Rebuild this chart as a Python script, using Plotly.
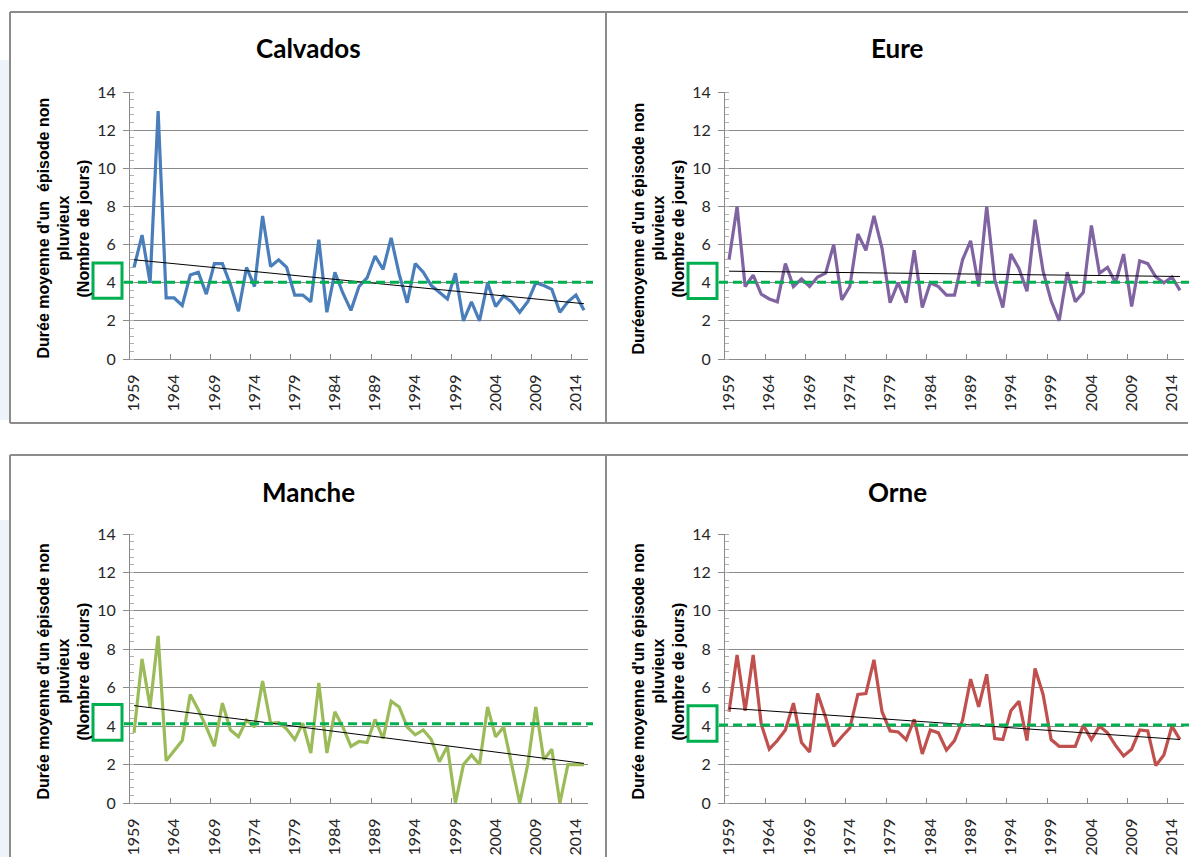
import numpy as np
import plotly.graph_objects as go

W, H = 1189, 857

years = list(range(1959, 2016))
tick_years = list(range(1959, 2015, 5))

regions = ["Calvados", "Eure", "Manche", "Orne"]

calvados = [4.8, 6.5, 4.0, 13.0, 3.2, 3.2, 2.8, 4.4, 4.55, 3.4,
            5.0, 5.0, 3.9, 2.5, 4.8, 3.8, 7.5, 4.85, 5.2, 4.8,
            3.35, 3.35, 3.0, 6.25, 2.45, 4.55, 3.45, 2.55, 3.8, 4.25,
            5.4, 4.7, 6.35, 4.45, 2.95, 5.0, 4.55, 3.85, 3.5, 3.15,
            4.5, 2.0, 3.0, 2.0, 4.0, 2.75, 3.3, 3.0, 2.45, 3.0,
            4.0, 3.85, 3.65, 2.45, 3.0, 3.35, 2.55]

eure = [5.2, 8.0, 3.8, 4.4, 3.4, 3.15, 3.0, 5.0, 3.8, 4.2,
        3.8, 4.3, 4.5, 6.0, 3.1, 3.8, 6.55, 5.7, 7.5, 5.8,
        2.95, 4.0, 2.95, 5.7, 2.7, 4.0, 3.8, 3.35, 3.35, 5.2,
        6.2, 3.8, 8.0, 4.15, 2.7, 5.5, 4.75, 3.55, 7.3, 4.6,
        3.05, 2.0, 4.55, 3.0, 3.5, 7.0, 4.5, 4.8, 4.0, 5.5,
        2.75, 5.15, 5.0, 4.3, 4.0, 4.3, 3.6]

manche = [3.65, 7.5, 5.0, 8.7, 2.2, 2.7, 3.25, 5.65, 4.85, 3.95,
          2.95, 5.2, 3.8, 3.45, 4.3, 3.95, 6.35, 4.15, 4.2, 3.85,
          3.3, 4.15, 2.6, 6.25, 2.6, 4.75, 3.95, 2.95, 3.2, 3.15,
          4.35, 3.35, 5.3, 5.0, 3.95, 3.55, 3.8, 3.3, 2.15, 2.95,
          0.0, 2.0, 2.5, 2.0, 5.0, 3.45, 3.95, 2.0, 0.0, 2.0,
          5.0, 2.25, 2.8, 0.0, 2.0, 2.0, 2.0]

orne = [4.75, 7.7, 4.8, 7.7, 4.1, 2.8, 3.25, 3.8, 5.2, 3.15,
        2.65, 5.7, 4.45, 2.95, 3.45, 3.9, 5.65, 5.7, 7.45, 4.75,
        3.75, 3.7, 3.3, 4.35, 2.55, 3.8, 3.65, 2.75, 3.25, 4.3,
        6.45, 5.0, 6.7, 3.35, 3.3, 4.8, 5.3, 3.25, 7.0, 5.65,
        3.3, 2.95, 2.95, 2.95, 4.05, 3.3, 4.0, 3.65, 3.0, 2.45,
        2.8, 3.8, 3.75, 1.95, 2.5, 4.0, 3.3]

series = [calvados, eure, manche, orne]
reference_levels = [4.03, 4.02, 4.12, 4.06]

y_titles = [
    ["Durée moyenne d'un  épisode non", "pluvieux", "(Nombre de jours)"],
    ["Duréemoyenne d'un épisode non", "pluvieux", "(Nombre de jours)"],
    ["Durée moyenne d'un épisode non", "pluvieux", "(Nombre de jours)"],
    ["Durée moyenne d'un épisode non", "pluvieux", "(Nombre de jours)"],
]

colors = ["#4A7EBB", "#8064A2", "#9BBB59", "#C0504D"]

def px_x(p):
    return p / W

def px_y(p):
    return 1 - p / H

# plot areas in pixels (left, right, top, bottom)
areas = [
    (130, 588, 92, 359),
    (725, 1184, 92, 359),
    (130, 588, 534, 803),
    (725, 1184, 534, 803),
]
panel_centers = [308, 897, 308, 897]
title_y = [48, 48, 492, 492]

fig = go.Figure()
layout = dict(
    template="none",
    width=W, height=H, autosize=False,
    margin=dict(l=0, r=0, t=0, b=0, pad=0, autoexpand=False),
    paper_bgcolor="white", plot_bgcolor="white",
    showlegend=False,
    annotations=[], shapes=[],
)

tick_font = dict(family="Lato, Open Sans, sans-serif", size=16, color="#262626")
grid_col = "#8a8a8a"

for i, (name, vals) in enumerate(zip(regions, series)):
    k = "" if i == 0 else str(i + 1)
    xa, ya = "x" + k, "y" + k
    l, r, t, b = areas[i]
    pw = r - l

    fig.add_trace(go.Scatter(
        x=years, y=vals, mode="lines", xaxis=xa, yaxis=ya,
        line=dict(color=colors[i], width=3.2), hoverinfo="x+y"))

    slope, intercept = np.polyfit(np.array(years), np.array(vals), 1)
    trend = [slope * yr + intercept for yr in (years[0], years[-1])]
    fig.add_trace(go.Scatter(
        x=[years[0], years[-1]], y=trend, mode="lines", xaxis=xa, yaxis=ya,
        line=dict(color="#000000", width=1), hoverinfo="skip"))

    layout["xaxis" + k] = dict(
        domain=[px_x(l), px_x(r)], anchor=ya, automargin=False,
        range=[years[0] - 0.5, years[-1] + 0.5],
        tickmode="array", tickvals=tick_years,
        ticktext=[str(v) for v in tick_years],
        tickangle=-90, ticks="", tickfont=tick_font,
        ticklabelstandoff=8,
        showgrid=False, zeroline=False,
        showline=True, linecolor=grid_col, linewidth=1,
        minor=dict(tickmode="array",
                   tickvals=[v - 0.5 for v in tick_years[1:]],
                   ticks="inside", ticklen=5, tickcolor=grid_col,
                   showgrid=False),
        fixedrange=True,
    )
    layout["yaxis" + k] = dict(
        domain=[px_y(b), px_y(t)], anchor=xa, automargin=False,
        range=[0, 14], dtick=2, tick0=0, tickmode="linear",
        ticks="outside", ticklen=6, tickcolor=grid_col,
        tickfont=tick_font, ticklabelstandoff=4,
        showgrid=True, gridcolor=grid_col, gridwidth=1,
        zeroline=False, showline=True, linecolor=grid_col, linewidth=1,
        minor=dict(dtick=0.4, tick0=0, ticks="inside", ticklen=4,
                   tickcolor="#b0b0b0", showgrid=False),
        fixedrange=True,
    )

    # title
    layout["annotations"].append(dict(
        text="<b>%s</b>" % name, xref="paper", yref="paper",
        x=px_x(panel_centers[i]), y=px_y(title_y[i]),
        xanchor="center", yanchor="middle", showarrow=False,
        font=dict(family="Lato, Open Sans, sans-serif", size=26, color="#000000")))

    # y title lines
    for j, line in enumerate(y_titles[i]):
        layout["annotations"].append(dict(
            text="<b>%s</b>" % line, xref="paper", yref="paper",
            x=px_x(l - 87 + 20 * j), y=px_y((t + b) / 2 + 3),
            xanchor="center", yanchor="middle", textangle=-90, showarrow=False,
            font=dict(family="Liberation Sans, Arial, sans-serif", size=16,
                      color="#000000")))

    # green highlight box around the reference tick label
    layout["shapes"].append(dict(
        type="rect", xref=xa + " domain", yref=ya,
        x0=-37 / pw, x1=-8 / pw,
        y0=reference_levels[i] - 0.85, y1=reference_levels[i] + 1.0,
        line=dict(color="#00B050", width=3), fillcolor="rgba(0,0,0,0)"))
    # green dashed reference line
    layout["shapes"].append(dict(
        type="line", xref=xa + " domain", yref=ya,
        x0=-6 / pw, x1=1 + 5 / pw,
        y0=reference_levels[i], y1=reference_levels[i],
        line=dict(color="#00B050", width=3, dash="9px,5px")))

# panel borders
border = dict(color="#8c8c8c", width=2)
for (x0, y0, x1, y1) in [
    (10, 12, 1188, 12), (10, 423, 1188, 423), (10, 455, 1188, 455),
    (10, 12, 10, 423), (606, 12, 606, 423),
    (10, 455, 10, 857), (606, 455, 606, 857),
]:
    layout["shapes"].append(dict(type="line", xref="paper", yref="paper",
                                 x0=px_x(x0), y0=px_y(y0), x1=px_x(x1), y1=px_y(y1),
                                 line=border))

# faint background strip at the left edge
for (y0, y1) in [(60, 420), (520, 857)]:
    layout["shapes"].append(dict(type="rect", xref="paper", yref="paper",
                                 x0=0, x1=px_x(9), y0=px_y(y1), y1=px_y(y0),
                                 fillcolor="#edf3f9", line=dict(width=0),
                                 layer="below"))

fig.update_layout(**layout)
fig.write_html("out.html", config={"displayModeBar": False},
               post_script="document.body.style.margin='0';document.body.style.overflow='hidden';")
